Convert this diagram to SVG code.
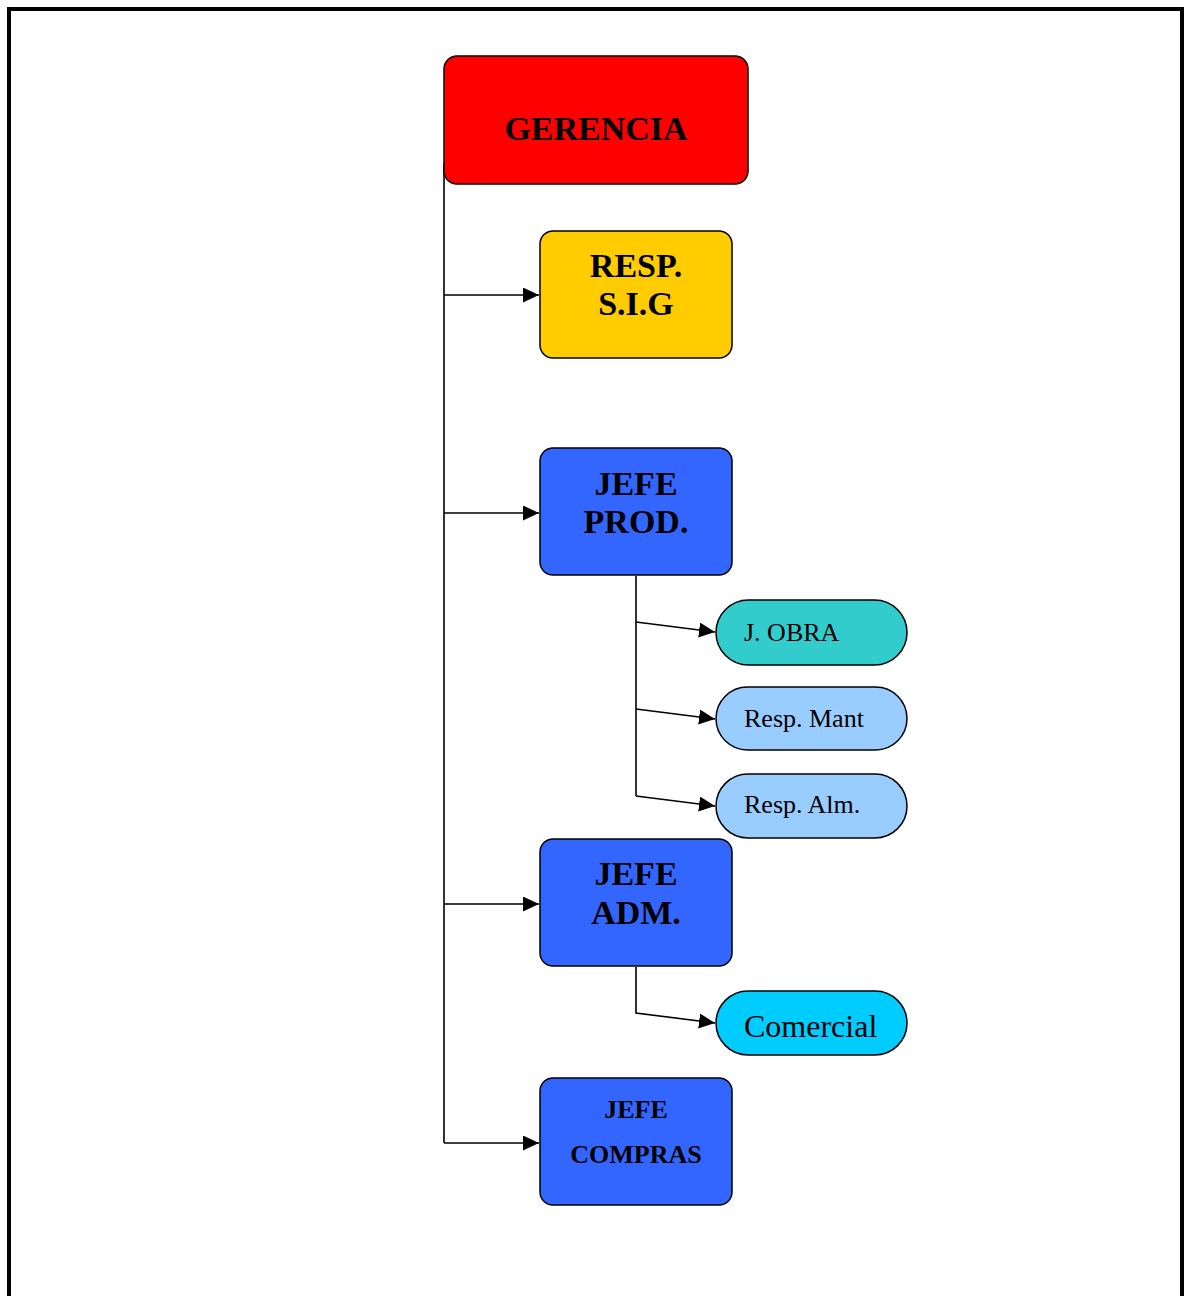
<svg xmlns="http://www.w3.org/2000/svg" width="1184" height="1296" viewBox="0 0 1184 1296">
  <style>
    .box { stroke: #000; stroke-width: 1.5; }
    .big { font-family: "Liberation Serif", "Times New Roman", serif; font-weight: bold; font-size: 34px; text-anchor: middle; fill: #000; }
    .mid { font-family: "Liberation Serif", "Times New Roman", serif; font-weight: bold; font-size: 26px; text-anchor: middle; fill: #000; }
    .pill { font-family: "Liberation Serif", "Times New Roman", serif; font-size: 26px; fill: #000; }
    .wire { fill: none; stroke: #000; stroke-width: 1.6; }
  </style>
  <defs>
    <marker id="arrow" markerUnits="userSpaceOnUse" markerWidth="18" markerHeight="16" refX="16" refY="7.5" orient="auto">
      <path d="M0,0 L16,7.5 L0,15 z" fill="#000"/>
    </marker>
  </defs>

  <!-- page frame -->
  <rect x="9" y="9" width="1173" height="1290" fill="#fff" stroke="#000" stroke-width="4"/>

  <!-- connectors -->
  <g id="connectors">
    <path class="wire" d="M444,163 L444,1143"/>
    <path class="wire" d="M444,295 L539,295" marker-end="url(#arrow)"/>
    <path class="wire" d="M444,513 L539,513" marker-end="url(#arrow)"/>
    <path class="wire" d="M444,904 L539,904" marker-end="url(#arrow)"/>
    <path class="wire" d="M444,1143 L539,1143" marker-end="url(#arrow)"/>
    <path class="wire" d="M636,576 L636,796"/>
    <path class="wire" d="M636,622 L715,632" marker-end="url(#arrow)"/>
    <path class="wire" d="M636,709 L715,719" marker-end="url(#arrow)"/>
    <path class="wire" d="M636,796 L715,806" marker-end="url(#arrow)"/>
    <path class="wire" d="M636,967 L636,1013 L715,1023" marker-end="url(#arrow)"/>
  </g>

  <g id="gerencia">
    <rect class="box" x="444" y="56" width="304" height="128" rx="13" fill="#FF0000"/>
    <text class="big" x="596" y="140">GERENCIA</text>
  </g>

  <g id="resp-sig">
    <rect class="box" x="540" y="231" width="192" height="127" rx="13" fill="#FFCC00"/>
    <text class="big" x="636" y="277">RESP.</text>
    <text class="big" x="636" y="315">S.I.G</text>
  </g>

  <g id="jefe-prod">
    <rect class="box" x="540" y="448" width="192" height="127" rx="13" fill="#3366FF"/>
    <text class="big" x="636" y="495">JEFE</text>
    <text class="big" x="636" y="533">PROD.</text>
  </g>

  <g id="j-obra">
    <rect class="box" x="716" y="600" width="191" height="65" rx="32.5" fill="#33CCCC"/>
    <text class="pill" x="744" y="641">J. OBRA</text>
  </g>

  <g id="resp-mant">
    <rect class="box" x="716" y="687" width="191" height="63" rx="31.5" fill="#99CCFF"/>
    <text class="pill" x="744" y="727">Resp. Mant</text>
  </g>

  <g id="resp-alm">
    <rect class="box" x="716" y="774" width="191" height="64" rx="32" fill="#99CCFF"/>
    <text class="pill" x="744" y="813">Resp. Alm.</text>
  </g>

  <g id="jefe-adm">
    <rect class="box" x="540" y="839" width="192" height="127" rx="13" fill="#3366FF"/>
    <text class="big" x="636" y="885">JEFE</text>
    <text class="big" x="636" y="924">ADM.</text>
  </g>

  <g id="comercial">
    <rect class="box" x="716" y="991" width="191" height="64" rx="32" fill="#00CCFF"/>
    <text class="pill" x="744" y="1037" style="font-size:32px">Comercial</text>
  </g>

  <g id="jefe-compras">
    <rect class="box" x="540" y="1078" width="192" height="127" rx="13" fill="#3366FF"/>
    <text class="mid" x="636" y="1118">JEFE</text>
    <text class="mid" x="636" y="1163">COMPRAS</text>
  </g>
</svg>
